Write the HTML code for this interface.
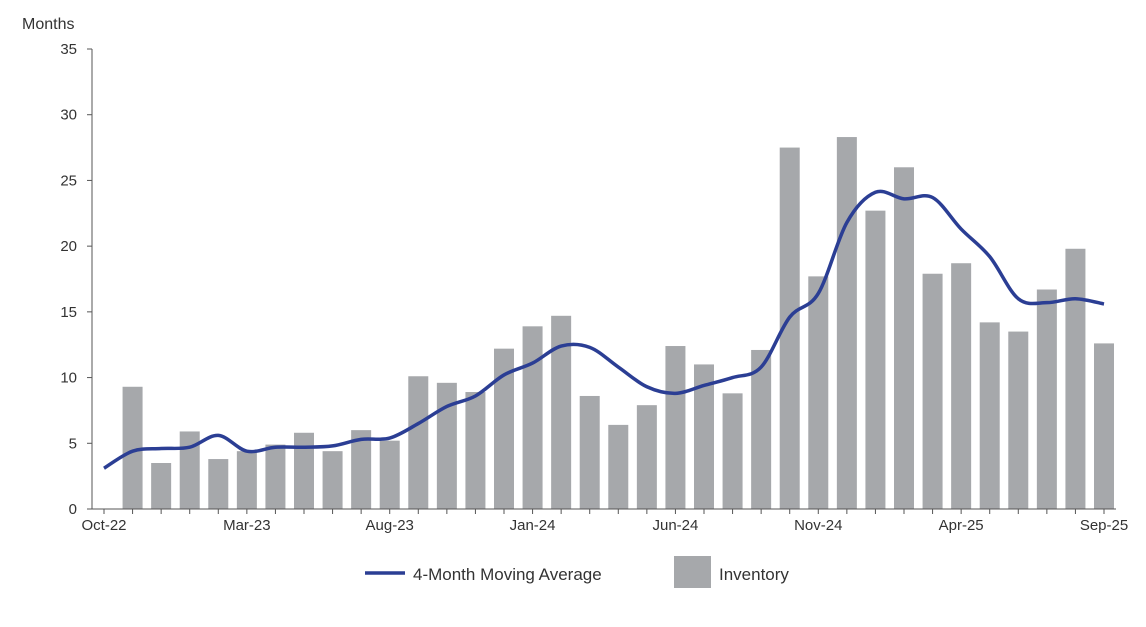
<!DOCTYPE html>
<html><head><meta charset="utf-8"><style>
body{margin:0;background:#fff;}
svg text{font-family:"Liberation Sans",Arial,sans-serif;fill:#333;}
</style></head><body>
<svg id="chart" width="1146" height="622" xmlns="http://www.w3.org/2000/svg">
<text x="22" y="29" font-size="16">Months</text>
<g id="yaxis"></g>
<g id="bars"></g>
<path id="line" fill="none" stroke="#2b3e94" stroke-width="3.5"/>
<g id="xaxis"></g>
<g>
<g>
<line x1="365" y1="573" x2="405" y2="573" stroke="#2b3e94" stroke-width="3.5"/>
<text x="413" y="580" font-size="17">4-Month Moving Average</text></g>
<g>
<rect x="674" y="556" width="37" height="32" fill="#a6a8ab"/>
<text x="719" y="580" font-size="17">Inventory</text></g>
</g>
</svg>
<script>
const months=["Oct-22","Nov-22","Dec-22","Jan-23","Feb-23","Mar-23","Apr-23","May-23","Jun-23","Jul-23","Aug-23","Sep-23","Oct-23","Nov-23","Dec-23","Jan-24","Feb-24","Mar-24","Apr-24","May-24","Jun-24","Jul-24","Aug-24","Sep-24","Oct-24","Nov-24","Dec-24","Jan-25","Feb-25","Mar-25","Apr-25","May-25","Jun-25","Jul-25","Aug-25","Sep-25"];
const inventory=[null,9.3,3.5,5.9,3.8,4.4,4.9,5.8,4.4,6.0,5.2,10.1,9.6,8.9,12.2,13.9,14.7,8.6,6.4,7.9,12.4,11.0,8.8,12.1,27.5,17.7,28.3,22.7,26.0,17.9,18.7,14.2,13.5,16.7,19.8,12.6];
const movingAvg=[3.1,4.4,4.6,4.7,5.6,4.4,4.7,4.7,4.8,5.3,5.4,6.5,7.8,8.6,10.2,11.1,12.4,12.3,10.8,9.3,8.8,9.4,10.0,10.8,14.6,16.4,21.8,24.1,23.6,23.7,21.3,19.2,16.0,15.7,16.0,15.6];
const yTicks=[0,5,10,15,20,25,30,35];
const xLabelIdx=[0,5,10,15,20,25,30,35];
const NS="http://www.w3.org/2000/svg";
const x=i=>104+i*(1104-104)/35;
const y=v=>509-v*(460/35);
function mk(t,a,p){const e=document.createElementNS(NS,t);for(const k in a)e.setAttribute(k,a[k]);p.appendChild(e);return e;}
const ya=document.getElementById('yaxis');
mk('line',{x1:92,y1:49,x2:92,y2:509,stroke:'#555','stroke-width':1},ya);
yTicks.forEach(v=>{
 mk('line',{x1:87,y1:y(v),x2:92,y2:y(v),stroke:'#555'},ya);
 const t=mk('text',{x:77,y:y(v)+5,'font-size':15,'text-anchor':'end'},ya);t.textContent=v;
 
 
});
const xa=document.getElementById('xaxis');
mk('line',{x1:92,y1:509,x2:1116,y2:509,stroke:'#555'},xa);
months.forEach((m,i)=>{mk('line',{x1:x(i),y1:509,x2:x(i),y2:514,stroke:'#555'},xa);});
xLabelIdx.forEach(i=>{const t=mk('text',{x:x(i),y:530,'font-size':15,'text-anchor':'middle'},xa);t.textContent=months[i];
 
 });
const bg=document.getElementById('bars');
inventory.forEach((v,i)=>{if(v==null)return;const r=mk('rect',{x:x(i)-10,y:y(v),width:20,height:y(0)-y(v),fill:'#a6a8ab'},bg);
 
 });
const P=movingAvg.map((v,i)=>[x(i),y(v)]);
let d='M'+P[0][0]+','+P[0][1];
for(let i=0;i<P.length-1;i++){const p0=P[i-1]||P[i],p1=P[i],p2=P[i+1],p3=P[i+2]||p2;
 d+=` C${p1[0]+(p2[0]-p0[0])/6},${p1[1]+(p2[1]-p0[1])/6} ${p2[0]-(p3[0]-p1[0])/6},${p2[1]-(p3[1]-p1[1])/6} ${p2[0]},${p2[1]}`;}
document.getElementById('line').setAttribute('d',d);
</script>
</body></html>
